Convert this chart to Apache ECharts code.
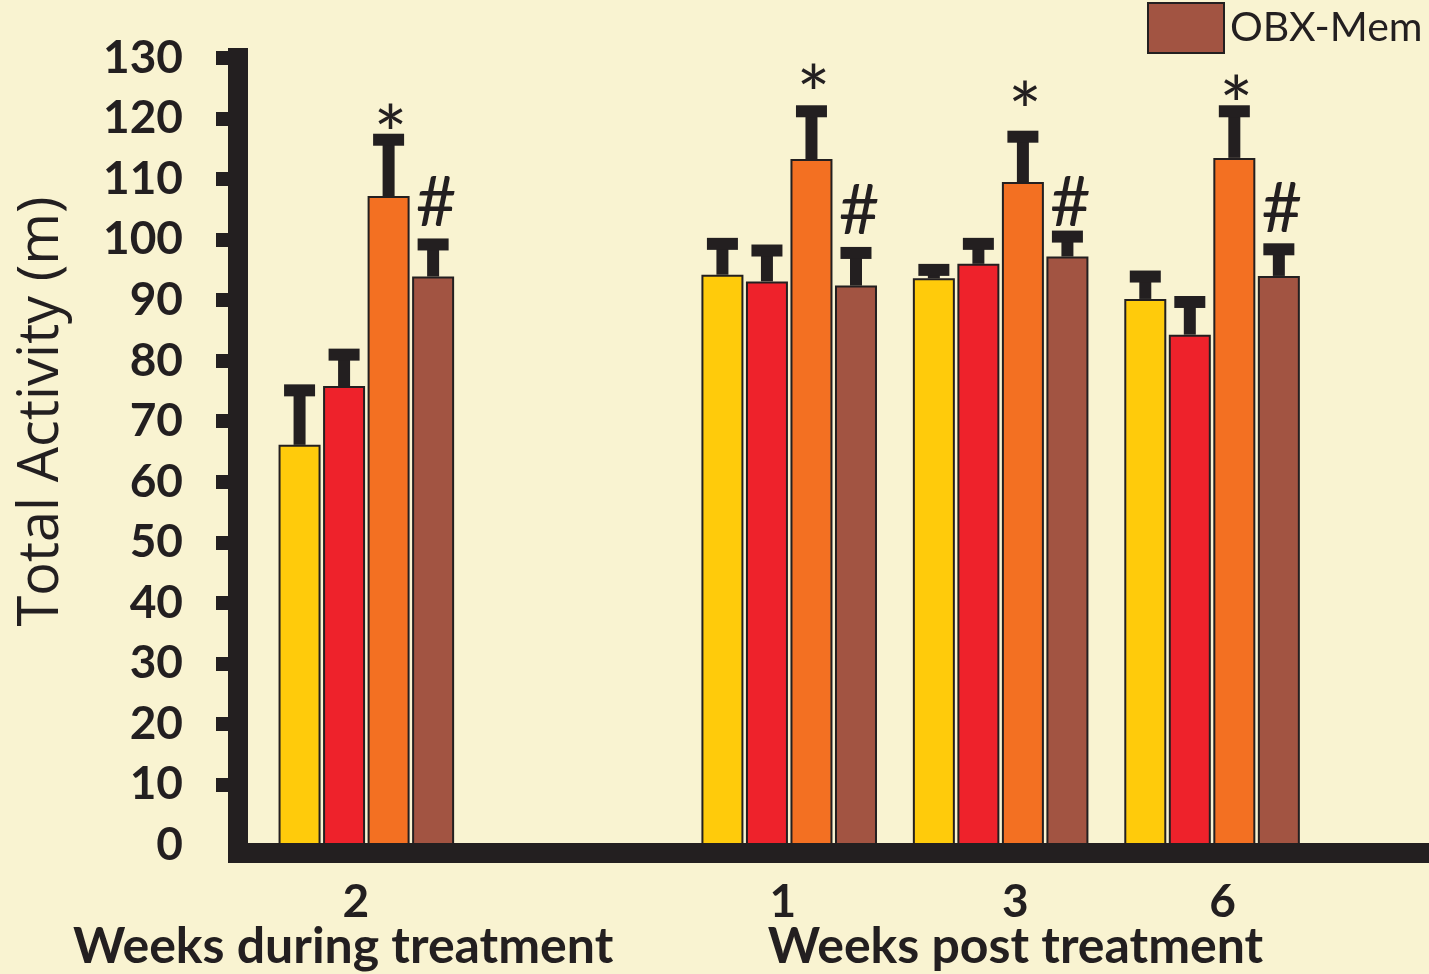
<!DOCTYPE html>
<html>
<head>
<meta charset="utf-8">
<script src="https://cdn.jsdelivr.net/npm/echarts@6/dist/echarts.min.js"></script>
<style>
html,body{margin:0;padding:0;background:#F9F3D1;}
#chart{width:1429px;height:974px;}
</style>
</head>
<body>
<div id="chart"></div>
<script>
// ---- data ----
var groupLabels = ['2', '1', '3', '6'];
var groupPos = [0, 2, 3, 4];              // slot of each group on the x axis (one empty slot after "2")
var labelPos = [-0.05, 1.97, 3.07, 4.05]; // where each group label sits
var periodTitles = ['Weeks during treatment', 'Weeks post treatment'];
var periodTitlePos = [-0.11, 3.07];       // x position (axis units) of each period title
var seriesNames = ['Sham-Veh', 'Sham-Mem', 'OBX-Veh', 'OBX-Mem'];
var shamVeh = [66.1, 94.2, 93.6, 90.2];
var shamMem = [75.8, 93.1, 96.0, 84.3];
var obxVeh  = [107.2, 113.3, 109.5, 113.5];
var obxMem  = [93.9, 92.4, 97.2, 94.0];
var shamVehErr = [9.0, 5.1, 1.4, 3.7];
var shamMemErr = [5.2, 5.1, 3.3, 5.4];
var obxVehErr  = [9.3, 7.9, 7.5, 7.7];
var obxMemErr  = [5.3, 5.4, 3.3, 4.4];
var starY = [120.2, 126.9, 124.1, 125.0]; // "*" above OBX-Veh
var hashY = [106.0, 104.6, 106.0, 105.0]; // "#" above OBX-Mem
var yTickValues = [10, 20, 30, 40, 50, 60, 70, 80, 90, 100, 110, 120, 130];

// ---- styles ----
var DARK = '#231F20';
var BG = '#F9F3D1';
var colors = ['#FFCB0B', '#EE222B', '#F37022', '#A25442'];
var FONT = 'Lato';
var BAR_W = 42, BAR_GAP = 0.06;
var PITCH = BAR_W * (1 + BAR_GAP);

var means = [shamVeh, shamMem, obxVeh, obxMem];
var errs = [shamVehErr, shamMemErr, obxVehErr, obxMemErr];

var barSeries = seriesNames.map(function (name, si) {
  return {
    name: name,
    type: 'bar',
    barWidth: BAR_W,
    barGap: (BAR_GAP * 100) + '%',
    itemStyle: { color: colors[si], borderColor: DARK, borderWidth: 2 },
    data: groupPos.map(function (x, gi) { return [x, means[si][gi]]; }),
    z: 3
  };
});

var errData = [];
for (var si = 0; si < 4; si++) {
  for (var gi = 0; gi < groupPos.length; gi++) {
    errData.push([groupPos[gi], means[si][gi], errs[si][gi], si]);
  }
}

var annoData = [];
for (var gi2 = 0; gi2 < groupPos.length; gi2++) {
  annoData.push({ value: [groupPos[gi2], starY[gi2], 2], sym: '*' });
  annoData.push({ value: [groupPos[gi2], hashY[gi2], 3], sym: '#' });
}

var titleData = periodTitles.map(function (t, i) { return { value: [periodTitlePos[i], 0], text: t }; });

var option = {
  backgroundColor: BG,
  animation: false,
  grid: { left: 238, right: 0, top: 58, bottom: 129, containLabel: false },
  legend: {
    orient: 'vertical',
    left: 1147,
    top: -193,
    padding: 0,
    itemWidth: 76,
    itemHeight: 50,
    itemGap: 13,
    icon: 'rect',
    data: seriesNames,
    textStyle: { fontFamily: FONT, fontSize: 41, color: DARK, padding: [16, 0, 0, 1] }
  },
  xAxis: {
    type: 'value',
    min: -0.607,
    max: 5.026,
    offset: 8,
    splitLine: { show: false },
    axisTick: { show: false },
    axisLine: { show: true, onZero: false, lineStyle: { color: DARK, width: 20, cap: 'square' } },
    axisLabel: {
      customValues: labelPos,
      hideOverlap: false,
      margin: 26,
      fontFamily: FONT, fontWeight: 'bold', fontSize: 46, color: DARK,
      formatter: function (v) {
        var best = 0, bd = 1e9;
        for (var i = 0; i < labelPos.length; i++) {
          var d = Math.abs(labelPos[i] - v);
          if (d < bd) { bd = d; best = i; }
        }
        return groupLabels[best];
      }
    }
  },
  yAxis: {
    type: 'value',
    min: 0,
    max: 130,
    interval: 10,
    name: 'Total Activity (m)',
    nameLocation: 'middle',
    nameGap: 168,
    nameTextStyle: { fontFamily: 'Open Sans', fontSize: 56, color: DARK, padding: [0, 0, 0, 80] },
    splitLine: { show: false },
    axisLine: { show: true, onZero: false, lineStyle: { color: DARK, width: 20, cap: 'square' } },
    axisTick: { show: true, customValues: yTickValues, length: 22, lineStyle: { color: DARK, width: 14 } },
    axisLabel: { margin: 55, fontFamily: FONT, fontWeight: 'bold', fontSize: 46, color: DARK }
  },
  series: barSeries.concat([
    {
      type: 'custom',
      name: 'err',
      z: 4,
      data: errData,
      encode: { x: 0, y: 1 },
      renderItem: function (params, api) {
        var x = api.value(0), m = api.value(1), e = api.value(2), s = api.value(3);
        var base = api.coord([x, m]);
        var top = api.coord([x, m + e]);
        var cx = base[0] + (s - 1.5) * PITCH;
        return {
          type: 'group',
          children: [
            { type: 'rect', shape: { x: cx - 6, y: top[1], width: 12, height: base[1] - top[1] }, style: { fill: DARK } },
            { type: 'rect', shape: { x: cx - 15.5, y: top[1] - 6, width: 31, height: 12 }, style: { fill: DARK } }
          ]
        };
      }
    },
    {
      type: 'custom',
      name: 'marks',
      z: 5,
      data: annoData,
      encode: { x: 0, y: 1 },
      renderItem: function (params, api) {
        var x = api.value(0), y = api.value(1), s = api.value(2);
        var p = api.coord([x, y]);
        var sym = annoData[params.dataIndex].sym;
        var isStar = sym === '*';
        return {
          type: 'text',
          x: p[0] + (s - 1.5) * PITCH + (isStar ? 2 : 3),
          y: p[1] + (isStar ? 20 : 0),
          style: {
            text: sym,
            fontFamily: FONT,
            fontSize: isStar ? 80 : 70,
            fill: DARK,
            align: 'center',
            verticalAlign: 'middle'
          }
        };
      }
    },
    {
      type: 'custom',
      name: 'periods',
      z: 5,
      clip: false,
      data: titleData,
      encode: { x: 0, y: 1 },
      renderItem: function (params, api) {
        var p = api.coord([api.value(0), api.value(1)]);
        return {
          type: 'text',
          x: p[0],
          y: p[1] + 102,
          style: {
            text: titleData[params.dataIndex].text,
            fontFamily: FONT,
            fontWeight: 'bold',
            fontSize: 50,
            fill: DARK,
            align: 'center',
            verticalAlign: 'middle'
          }
        };
      }
    }
  ])
};

var chart = echarts.init(document.getElementById('chart'), null, { renderer: 'canvas' });
chart.setOption(option);
</script>
</body>
</html>
